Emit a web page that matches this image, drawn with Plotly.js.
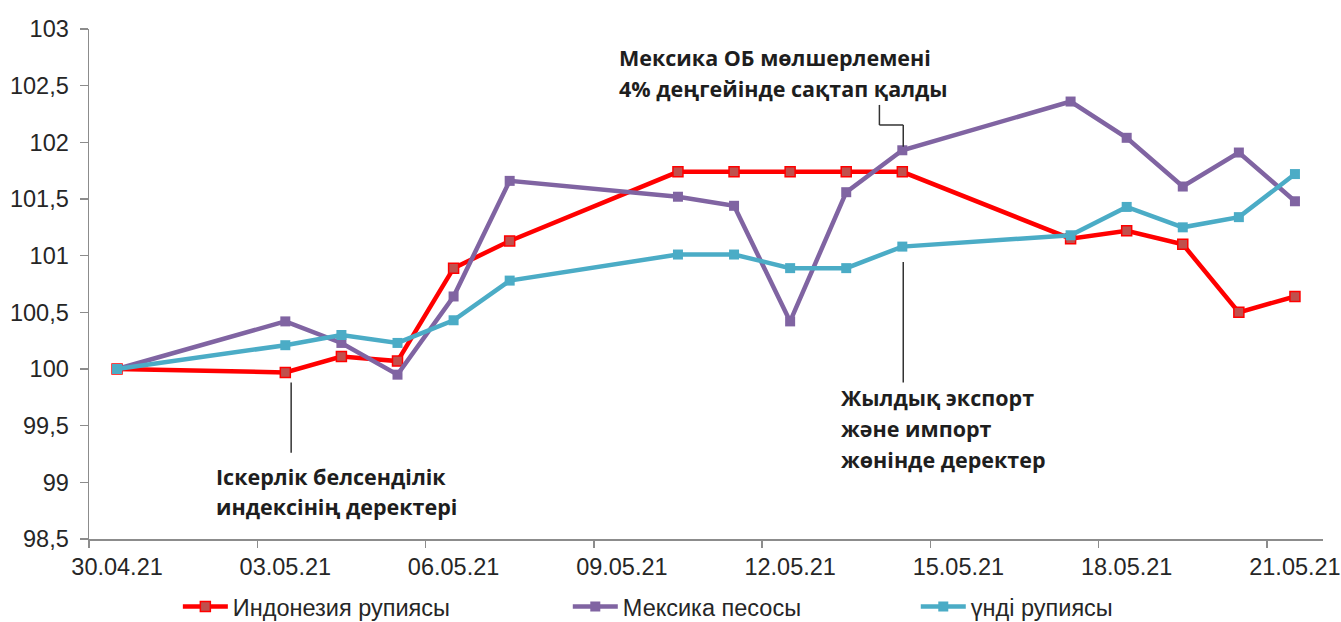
<!DOCTYPE html>
<html>
<head>
<meta charset="utf-8">
<script src="https://cdn.plot.ly/plotly-3.0.1.min.js"></script>
<style>html,body{margin:0;padding:0;background:#fff}#chart{width:1341px;height:622px}</style>
</head>
<body>
<div id="chart"></div>
<script>
// ---- data ----
const dates = ['2021-04-30','2021-05-03','2021-05-04','2021-05-05','2021-05-06','2021-05-07','2021-05-10','2021-05-11','2021-05-12','2021-05-13','2021-05-14','2021-05-17','2021-05-18','2021-05-19','2021-05-20','2021-05-21'];
const indonesia = [100, 99.97, 100.11, 100.07, 100.89, 101.13, 101.74, 101.74, 101.74, 101.74, 101.74, 101.15, 101.22, 101.10, 100.50, 100.64];
const mexico    = [100, 100.42, 100.23, 99.95, 100.64, 101.66, 101.52, 101.44, 100.42, 101.56, 101.93, 102.36, 102.04, 101.61, 101.91, 101.48];
const india     = [100, 100.21, 100.30, 100.23, 100.43, 100.78, 101.01, 101.01, 100.89, 100.89, 101.08, 101.18, 101.43, 101.25, 101.34, 101.72];
const seriesNames = ['Индонезия рупиясы', 'Мексика песосы', 'үнді рупиясы'];
const tickDates = ['2021-04-30','2021-05-03','2021-05-06','2021-05-09','2021-05-12','2021-05-15','2021-05-18','2021-05-21'];
const tickLabels = ['30.04.21','03.05.21','06.05.21','09.05.21','12.05.21','15.05.21','18.05.21','21.05.21'];
const note1 = ['Іскерлік белсенділік', 'индексінің деректері'];
const note2 = ['Мексика ОБ мөлшерлемені', '4% деңгейінде сақтап қалды'];
const note3 = ['Жылдық экспорт', 'және импорт', 'жөнінде деректер'];

// ---- helpers ----
function shiftHours(d, h) {
  const t = new Date(d + 'T00:00:00Z').getTime() + h * 3600000;
  return new Date(t).toISOString().slice(0, 19).replace('T', ' ');
}
const boundaryTicks = tickDates.map(d => shiftHours(d, -12));

const RED = '#FF0000', PURPLE = '#8064A2', TEAL = '#4BACC6';
const traces = [
  {x: dates, y: indonesia, name: seriesNames[0], type: 'scatter', mode: 'lines+markers',
   line: {color: RED, width: 4.5}, marker: {symbol: 'square', size: 10, color: '#C0504D', line: {color: RED, width: 1.5}}, legend: 'legend'},
  {x: dates, y: mexico, name: seriesNames[1], type: 'scatter', mode: 'lines+markers',
   line: {color: PURPLE, width: 4.5}, marker: {symbol: 'square', size: 10, color: PURPLE}, legend: 'legend2'},
  {x: dates, y: india, name: seriesNames[2], type: 'scatter', mode: 'lines+markers',
   line: {color: TEAL, width: 4.5}, marker: {symbol: 'square', size: 10, color: TEAL}, legend: 'legend3'}
];

const AX = '#8C8C8C';
const TXT = '#262626';
const FS = 23.5;
const noteFont = {family: 'Open Sans, Noto Sans, sans-serif', size: 21.5, color: '#1E1E1E', weight: 700};

function noteAnns(lines, xp, ys) {
  return lines.map((t, i) => ({text: t, xref: 'paper', yref: 'paper', x: xp, y: ys[i],
    xanchor: 'left', yanchor: 'middle', showarrow: false, font: noteFont}));
}
const annotations = [].concat(
  noteAnns(note1, 0.1015, [0.1235, 0.0647]),
  noteAnns(note2, 0.4275, [0.945, 0.884]),
  noteAnns(note3, 0.6075, [0.278, 0.2176, 0.155])
);

const lineStyle = {color: '#333333', width: 1.5};
const x14 = shiftHours('2021-05-14', 0.4);
const xElbow = shiftHours('2021-05-14', -9.8);
const shapes = [
  {type: 'line', xref: 'x', yref: 'y', x0: shiftHours('2021-05-03', 2.5), x1: shiftHours('2021-05-03', 2.5), y0: 99.88, y1: 99.26, line: lineStyle},
  {type: 'line', xref: 'x', yref: 'y', x0: xElbow, x1: xElbow, y0: 102.33, y1: 102.153, line: lineStyle},
  {type: 'line', xref: 'x', yref: 'y', x0: xElbow, x1: x14, y0: 102.153, y1: 102.153, line: lineStyle},
  {type: 'line', xref: 'x', yref: 'y', x0: x14, x1: x14, y0: 102.153, y1: 101.96, line: lineStyle},
  {type: 'line', xref: 'x', yref: 'y', x0: x14, x1: x14, y0: 100.945, y1: 99.88, line: lineStyle}
];

const legendBase = {orientation: 'h', yref: 'paper', y: -0.133, yanchor: 'middle', xanchor: 'left',
  font: {family: 'Liberation Sans, Arial, sans-serif', size: FS, color: TXT}, itemwidth: 45, bgcolor: 'rgba(0,0,0,0)'};

const layout = {
  width: 1341, height: 622,
  margin: {l: 89, r: 18, t: 29, b: 83, autoexpand: false},
  paper_bgcolor: '#fff', plot_bgcolor: '#fff',
  separators: ', ',
  font: {family: 'Liberation Sans, Arial, sans-serif', size: FS, color: TXT},
  showlegend: true,
  legend: Object.assign({}, legendBase, {x: 0.072}),
  legend2: Object.assign({}, legendBase, {x: 0.388}),
  legend3: Object.assign({}, legendBase, {x: 0.670}),
  xaxis: {
    type: 'date',
    range: [shiftHours(dates[0], -12), shiftHours(dates[dates.length - 1], 12)],
    tickmode: 'array', tickvals: tickDates, ticktext: tickLabels,
    ticks: '', showgrid: false, zeroline: false,
    showline: true, linecolor: AX, linewidth: 1.5,
    tickfont: {size: FS, color: TXT}, automargin: false, ticklabelstandoff: 6,
    minor: {tickmode: 'array', tickvals: boundaryTicks, ticks: 'outside', ticklen: 7, tickcolor: AX, tickwidth: 1.5, showgrid: false}
  },
  yaxis: {
    range: [98.5, 103], dtick: 0.5, tick0: 98.5,
    ticks: 'outside', ticklen: 8, tickcolor: AX, tickwidth: 1.5,
    showgrid: false, zeroline: false,
    showline: true, linecolor: AX, linewidth: 1.5, automargin: false, ticklabelstandoff: 6,
    tickfont: {size: FS, color: TXT}
  },
  annotations: annotations,
  shapes: shapes
};

Plotly.newPlot('chart', traces, layout, {displayModeBar: false, staticPlot: true});
</script>
</body>
</html>
